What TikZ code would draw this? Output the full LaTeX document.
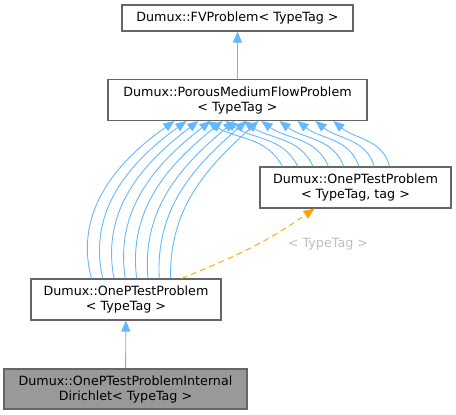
\documentclass[tikz,border=0pt]{standalone}
\usepackage{fontspec}
\setmainfont{DejaVu Sans}
\usepackage{tikz}
\usetikzlibrary{arrows.meta, positioning, calc}
\usepackage{xcolor}
\definecolor{DoxEdge}{HTML}{63B8FF}
\definecolor{DoxTemplate}{HTML}{FFA500}
\definecolor{DoxBorder}{HTML}{666666}
\definecolor{DoxCurrent}{HTML}{999999}
\definecolor{DoxLabel}{HTML}{BEBEBE}
\tikzset{
    % Node styles - plain boxes
    classbox/.style={
        rectangle,
        draw=DoxBorder,
        fill=white,
        line width=1.1pt,
        inner sep=0pt,
        minimum height=41pt,
        align=center,
        font=\fontsize{12.7}{15}\selectfont
    },
    currentbox/.style={
        classbox,
        fill=DoxCurrent
    },
    % Arrow styles
    inherit/.style={
        -{Triangle[length=11pt,width=9pt]},
        DoxEdge,
        line width=0.9pt
    },
    templarrow/.style={
        inherit,
        DoxTemplate,
        dash pattern=on 6pt off 4pt
    },
    templlabel/.style={
        text=DoxLabel,
        font=\fontsize{12.7}{15}\selectfont
    }
}

\begin{document}
\begin{tikzpicture}[x=1pt, y=-1pt]
    \useasboundingbox (0,0) rectangle (456,415);

    % Classes
    \node[classbox, minimum width=231pt, minimum height=26pt] (fvproblem) at (237.5,18) {Dumux::FVProblem< TypeTag >};
    \node[classbox, minimum width=259pt] (pmfp) at (237.5,100) {Dumux::PorousMediumFlowProblem\\< TypeTag >};
    \node[classbox, minimum width=191pt] (oneptag) at (355.5,187.5) {Dumux::OnePTestProblem\\< TypeTag, tag >};
    \node[classbox, minimum width=190pt] (onep) at (126,299.5) {Dumux::OnePTestProblem\\< TypeTag >};
    \node[currentbox, minimum width=243pt, minimum height=40pt] (internal) at (125.5,389) {Dumux::OnePTestProblemInternal\\Dirichlet< TypeTag >};

    % Inheritance
    \draw[inherit] (pmfp) -- (fvproblem);
    \draw[inherit] (internal) -- (onep);

    % Many edges to the base problem
    \foreach \i [evaluate=\i as \oa using {105-2*\i}, evaluate=\i as \ia using {-145+1*\i}] in {0,...,7} {
        \draw[inherit] ($(onep.north west)+({61+11.3*\i},0)$) to[out=\oa, in=\ia] ($(pmfp.south west)+({67+12*\i},0)$);
    }
    \foreach \i [evaluate=\i as \oa using {118-2*\i}, evaluate=\i as \ia using {-33-1*\i}] in {0,...,7} {
        \draw[inherit] ($(oneptag.north west)+({23+15.3*\i},0)$) to[out=\oa, in=\ia] ($(pmfp.south west)+({100+18*\i},0)$);
    }

    % Template instance
    \draw[templarrow] ($(onep.north west)+(151,0)$) to[out=22, in=-145] ($(oneptag.south west)+(55,0)$);
    \node[templlabel] (instlabel) at (328,244) {< TypeTag >};
\end{tikzpicture}
\end{document}
